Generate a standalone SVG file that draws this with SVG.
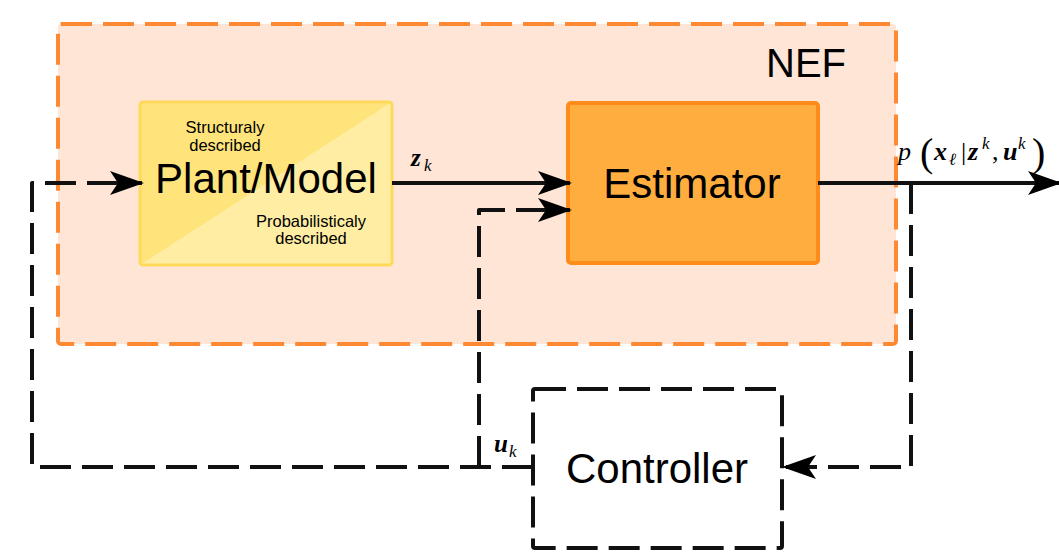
<svg xmlns="http://www.w3.org/2000/svg" width="1059" height="557" viewBox="0 0 1059 557">
  <style>
    .lbl { font-family: "Liberation Sans", Arial, sans-serif; fill: #000; }
    .big { font-size: 42px; text-anchor: middle; }
    .small { font-size: 16.5px; text-anchor: middle; }
    .math { font-family: "Liberation Serif", "Times New Roman", serif; fill: #000; }
    .bi { font-weight: bold; font-style: italic; }
    .it { font-style: italic; }
    .solid { fill: none; stroke: #111; stroke-width: 4; }
    .dash { fill: none; stroke: #111; stroke-width: 4; stroke-dasharray: 31 11; stroke-linejoin: round; }
  </style>
  <defs>
    <marker id="arrow" viewBox="0 0 34 24" refX="32" refY="12" markerWidth="34" markerHeight="24" markerUnits="userSpaceOnUse" orient="auto">
      <path d="M0,0 L34,12 L0,24 L8,12 Z" fill="#000"/>
    </marker>
    <!-- two-tone fill split along the bottom-left / top-right diagonal -->
    <linearGradient id="plantFill" x1="0" y1="0" x2="1" y2="1" gradientUnits="objectBoundingBox">
      <stop offset="0.5" stop-color="#FFE47C"/>
      <stop offset="0.5" stop-color="#FFEDA3"/>
    </linearGradient>
  </defs>

  <rect width="1059" height="557" fill="#fff"/>

  <!-- NEF container -->
  <g id="nef">
    <rect x="58" y="24" width="838" height="320" rx="3" fill="#FFE5D6" stroke="#FF8833" stroke-width="4" stroke-dasharray="31 11"/>
    <text class="lbl" x="806" y="77" font-size="40" text-anchor="middle">NEF</text>
  </g>

  <!-- Plant / Model -->
  <g id="plant">
    <rect x="140" y="102" width="252" height="163" rx="3" fill="url(#plantFill)" stroke="#FFD95A" stroke-width="3"/>
    <text class="lbl big" x="266" y="193">Plant/Model</text>
    <text class="lbl small" x="225" y="133">Structuraly</text>
    <text class="lbl small" x="225" y="151">described</text>
    <text class="lbl small" x="311" y="227">Probabilisticaly</text>
    <text class="lbl small" x="311" y="244">described</text>
  </g>

  <!-- Estimator -->
  <g id="estimator">
    <rect x="568" y="103" width="250" height="160" rx="3" fill="#FFAD3F" stroke="#FF8C1A" stroke-width="4"/>
    <text class="lbl big" x="692" y="198">Estimator</text>
  </g>

  <!-- Controller -->
  <g id="controller">
    <rect x="533" y="389" width="249" height="159" rx="2" fill="#fff" stroke="#111" stroke-width="4" stroke-dasharray="31 11"/>
    <text class="lbl big" x="657" y="483">Controller</text>
  </g>

  <!-- Connectors -->
  <g id="connectors">
    <line class="solid" x1="392" y1="183" x2="570" y2="183" marker-end="url(#arrow)"/>
    <line class="solid" x1="818" y1="183" x2="1060" y2="183" marker-end="url(#arrow)"/>
    <path class="dash" d="M911,183 L911,467 L784,467" marker-end="url(#arrow)"/>
    <path class="dash" d="M533,467 L32,467 L32,183 L142,183" marker-end="url(#arrow)"/>
    <path class="dash" d="M479,467 L479,210 L570,210" marker-end="url(#arrow)"/>
  </g>

  <!-- Signal labels -->
  <g id="labels">
    <text class="math" font-size="25"><tspan class="bi" x="411" y="166">z</tspan><tspan class="it" font-size="17" x="424" y="171">k</tspan></text>
    <text class="math" font-size="25"><tspan class="bi" x="494" y="452">u</tspan><tspan class="it" font-size="17" x="509" y="457">k</tspan></text>
    <text class="math" font-size="26">
      <tspan class="it" x="898" y="160">p</tspan>
      <tspan font-size="40" x="920" y="166">(</tspan>
      <tspan class="bi" x="934" y="160">x</tspan>
      <tspan class="it" font-size="17" x="949" y="165">ℓ</tspan>
      <tspan x="961" y="160">|</tspan>
      <tspan class="bi" x="968" y="160">z</tspan>
      <tspan class="it" font-size="17" x="982" y="149">k</tspan>
      <tspan x="992" y="160">,</tspan>
      <tspan class="bi" x="1003" y="160">u</tspan>
      <tspan class="it" font-size="17" x="1018" y="149">k</tspan>
      <tspan font-size="40" x="1032" y="166">)</tspan>
    </text>
  </g>
</svg>
